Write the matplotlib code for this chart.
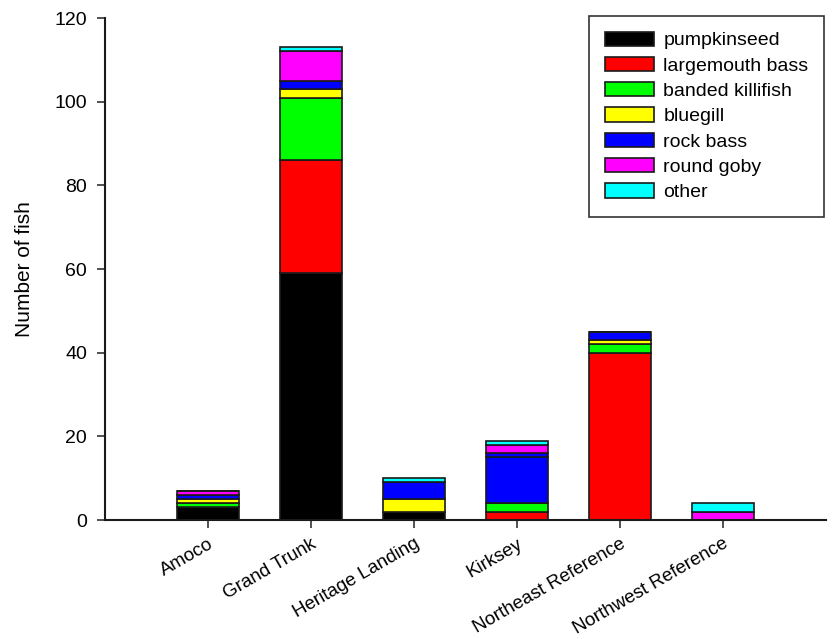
import matplotlib.pyplot as plt
import numpy as np

plt.rcParams['font.family'] = ['Liberation Sans', 'DejaVu Sans']

sites = ['Amoco', 'Grand Trunk', 'Heritage Landing', 'Kirksey',
         'Northeast Reference', 'Northwest Reference']

pumpkinseed = [3, 59, 2, 0, 0, 0]
largemouth_bass = [0, 27, 0, 2, 40, 0]
banded_killifish = [1, 15, 0, 2, 2, 0]
bluegill = [1, 2, 3, 0, 1, 0]
rock_bass = [1, 2, 4, 11, 2, 0]
rock_bass_extra = [0, 0, 0, 1, 0, 0]
round_goby = [1, 7, 0, 2, 0, 2]
other = [0, 1, 1, 1, 0, 2]

series = [
    ('pumpkinseed', pumpkinseed, '#000000'),
    ('largemouth bass', largemouth_bass, '#ff0000'),
    ('banded killifish', banded_killifish, '#00ff00'),
    ('bluegill', bluegill, '#ffff00'),
    ('rock bass', rock_bass, '#0000ff'),
    ('_nolegend_', rock_bass_extra, '#0000ff'),
    ('round goby', round_goby, '#ff00ff'),
    ('other', other, '#00ffff'),
]

fig = plt.figure(figsize=(8.33, 6.39), dpi=100)
ax = fig.add_axes([0.126, 0.1862, 0.8656, 0.7856])

x = np.arange(len(sites))
bottom = np.zeros(len(sites))
for label, vals, color in series:
    vals = np.array(vals, dtype=float)
    ax.bar(x, vals, width=0.6, bottom=bottom, color=color,
           edgecolor='#1a1a1a', linewidth=1.2, label=label)
    bottom += vals

ax.set_xlim(-1, 6)
ax.set_ylim(0, 120)
ax.set_yticks(np.arange(0, 121, 20))
ax.set_xticks(x)
ax.set_xticklabels(sites, rotation=30, ha='right', rotation_mode='anchor')
ax.tick_params(axis='both', direction='out', length=6,
               width=1.2, color='#333333')
ax.tick_params(axis='y', labelsize=14, pad=7)
ax.tick_params(axis='x', labelsize=13.5, pad=5)
ax.set_ylabel('Number of fish', fontsize=15)
ax.yaxis.set_label_coords(-0.098, 0.5)

for side in ['top', 'right']:
    ax.spines[side].set_visible(False)
for side in ['left', 'bottom']:
    ax.spines[side].set_linewidth(1.5)
    ax.spines[side].set_color('#1a1a1a')

leg = ax.legend(loc='upper right', bbox_to_anchor=(824 / 833, 1 - 16 / 639),
                bbox_transform=fig.transFigure, fontsize=14,
                fancybox=False, framealpha=1, edgecolor='#333333',
                handlelength=2.5, handleheight=0.75, labelspacing=0.38,
                borderpad=0.8, handletextpad=0.5, borderaxespad=0)
leg.get_frame().set_linewidth(1.2)

fig.savefig('out.png', dpi=100)
